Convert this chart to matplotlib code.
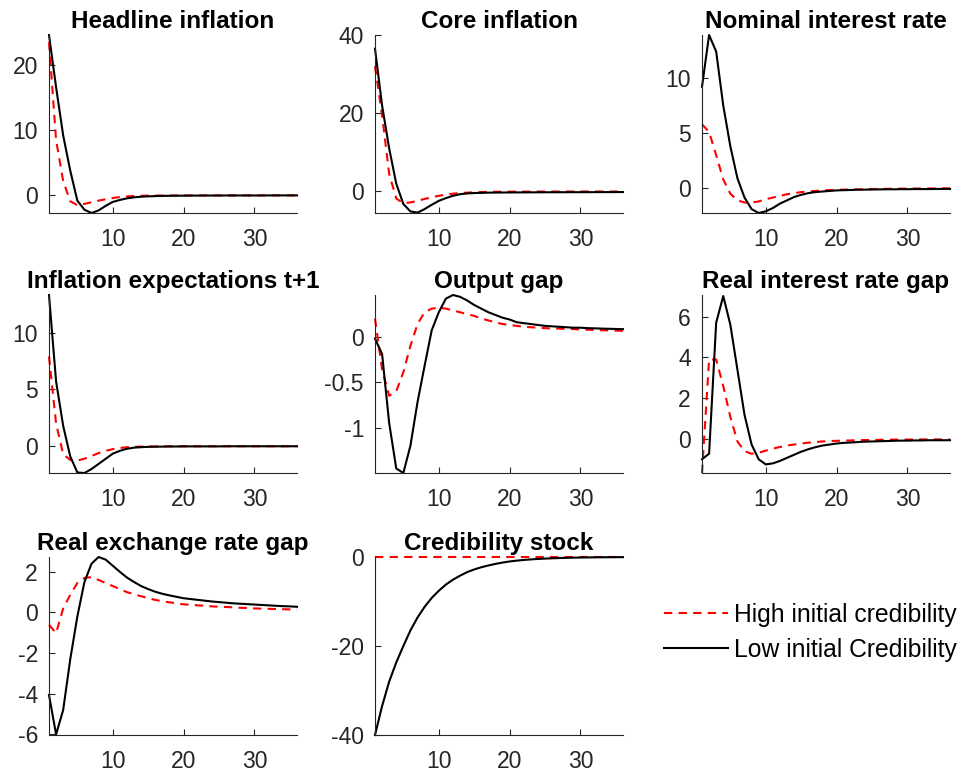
import numpy as np
import matplotlib
matplotlib.use("Agg")
from matplotlib import pyplot as plt
from matplotlib.lines import Line2D

plt.rcParams['font.family'] = ['Liberation Sans', 'DejaVu Sans']
plt.rcParams['axes.unicode_minus'] = False

periods = np.arange(1, 37)

titles = ["Headline inflation", "Core inflation", "Nominal interest rate",
          "Inflation expectations t+1", "Output gap", "Real interest rate gap",
          "Real exchange rate gap", "Credibility stock"]
labels = ["High initial credibility", "Low initial Credibility"]

# high initial credibility (red dashed)
headline_high = [23.5, 8.5, 2.2, -0.9, -1.5, -1.3, -1.05, -0.8, -0.6, -0.4,
                 -0.25, -0.15, -0.1, -0.06, -0.04, -0.03, -0.02, -0.02, -0.01, -0.01,
                 -0.01, 0, 0, 0, 0, 0, 0, 0, 0, 0,
                 0, 0, 0, 0, 0, 0]
core_high = [32, 19.5, 4.5, -1.8, -3.0, -2.8, -2.4, -1.9, -1.5, -1.1,
             -0.8, -0.55, -0.4, -0.3, -0.2, -0.15, -0.1, -0.08, -0.06, -0.05,
             -0.04, -0.03, -0.03, -0.02, -0.02, -0.01, -0.01, -0.01, 0, 0,
             0, 0, 0, 0, 0, 0]
nominal_high = [5.8, 5.1, 3.0, 0.8, -0.5, -1.1, -1.3, -1.3, -1.2, -1.0,
                -0.85, -0.7, -0.55, -0.45, -0.35, -0.3, -0.25, -0.2, -0.17, -0.15,
                -0.13, -0.11, -0.1, -0.09, -0.08, -0.07, -0.06, -0.05, -0.04, -0.04,
                -0.03, -0.03, -0.02, -0.02, -0.01, -0.01]
expect_high = [7.9, 2.0, -0.7, -1.2, -1.25, -1.1, -0.85, -0.6, -0.4, -0.25,
               -0.15, -0.08, -0.05, -0.03, -0.02, -0.01, -0.01, 0, 0, 0,
               0, 0, 0, 0, 0, 0, 0, 0, 0, 0,
               0, 0, 0, 0, 0, 0]
outgap_high = [0.2, -0.36, -0.65, -0.6, -0.39, -0.1, 0.14, 0.27, 0.31, 0.32,
               0.31, 0.29, 0.27, 0.25, 0.23, 0.2, 0.18, 0.16, 0.14, 0.13,
               0.12, 0.11, 0.105, 0.1, 0.095, 0.09, 0.09, 0.085, 0.085, 0.08,
               0.078, 0.075, 0.072, 0.07, 0.068, 0.065]
rir_high = [-1.64, 3.9, 3.9, 2.6, 1.1, -0.1, -0.57, -0.7, -0.65, -0.55,
            -0.45, -0.37, -0.3, -0.25, -0.2, -0.16, -0.13, -0.1, -0.08, -0.07,
            -0.06, -0.05, -0.04, -0.03, -0.03, -0.02, -0.02, -0.01, -0.01, -0.01,
            0, 0, 0, 0, 0, 0]
rer_high = [-0.6, -1.02, 0.2, 0.87, 1.45, 1.7, 1.74, 1.6, 1.45, 1.3,
            1.15, 1.0, 0.9, 0.8, 0.7, 0.62, 0.55, 0.5, 0.45, 0.4,
            0.38, 0.35, 0.33, 0.3, 0.28, 0.27, 0.25, 0.23, 0.22, 0.2,
            0.19, 0.18, 0.17, 0.16, 0.15, 0.14]
cred_high = [0] * 36

# low initial credibility (black solid)
headline_low = [24.6, 16.6, 9.2, 3.8, -0.8, -2.2, -2.7, -2.3, -1.6, -1.0,
                -0.7, -0.45, -0.3, -0.2, -0.15, -0.11, -0.08, -0.06, -0.05, -0.04,
                -0.03, -0.03, -0.02, -0.02, -0.02, -0.01, -0.01, -0.01, -0.01, -0.01,
                -0.01, 0, 0, 0, 0, 0]
core_low = [36.5, 22, 11, 2, -3.2, -5.1, -5.4, -4.5, -3.4, -2.4,
            -1.7, -1.1, -0.7, -0.5, -0.4, -0.35, -0.3, -0.28, -0.26, -0.25,
            -0.24, -0.23, -0.22, -0.21, -0.2, -0.2, -0.19, -0.19, -0.18, -0.18,
            -0.17, -0.17, -0.16, -0.16, -0.15, -0.15]
nominal_low = [9.2, 13.9, 12.4, 7.5, 3.8, 0.9, -0.85, -1.9, -2.25, -2.1,
               -1.8, -1.4, -1.1, -0.8, -0.6, -0.45, -0.35, -0.3, -0.25, -0.2,
               -0.18, -0.16, -0.14, -0.13, -0.12, -0.11, -0.1, -0.1, -0.09, -0.09,
               -0.08, -0.08, -0.08, -0.07, -0.07, -0.07]
expect_low = [13.3, 5.7, 1.8, -0.9, -2.3, -2.35, -2.0, -1.55, -1.1, -0.65,
              -0.4, -0.22, -0.12, -0.08, -0.05, -0.04, -0.03, -0.02, -0.02, -0.01,
              -0.01, -0.01, -0.01, -0.01, -0.01, 0, 0, 0, 0, 0,
              0, 0, 0, 0, 0, 0]
outgap_low = [-0.02, -0.19, -0.95, -1.45, -1.5, -1.2, -0.72, -0.32, 0.07, 0.27,
              0.42, 0.46, 0.44, 0.4, 0.35, 0.31, 0.27, 0.24, 0.21, 0.19,
              0.16, 0.15, 0.14, 0.13, 0.12, 0.115, 0.11, 0.105, 0.1, 0.1,
              0.095, 0.093, 0.09, 0.088, 0.086, 0.084]
rir_low = [-0.97, -0.7, 5.7, 7.0, 5.6, 3.4, 1.2, -0.25, -0.97, -1.22,
           -1.17, -1.05, -0.9, -0.75, -0.6, -0.48, -0.38, -0.3, -0.25, -0.2,
           -0.17, -0.15, -0.13, -0.11, -0.1, -0.09, -0.08, -0.07, -0.06, -0.06,
           -0.05, -0.05, -0.04, -0.04, -0.04, -0.04]
rer_low = [-4.06, -6.0, -4.8, -2.3, -0.2, 1.5, 2.4, 2.73, 2.6, 2.3,
           2.0, 1.72, 1.5, 1.3, 1.15, 1.02, 0.92, 0.84, 0.77, 0.7,
           0.66, 0.62, 0.58, 0.54, 0.51, 0.48, 0.45, 0.43, 0.41, 0.39,
           0.37, 0.35, 0.33, 0.31, 0.3, 0.28]
cred_low = [-40, -33.5, -28, -23.7, -20, -16.5, -13.6, -11.2, -9.2, -7.6,
            -6.2, -5.1, -4.2, -3.4, -2.8, -2.3, -1.9, -1.55, -1.25, -1.0,
            -0.82, -0.66, -0.54, -0.44, -0.36, -0.29, -0.24, -0.19, -0.15, -0.12,
            -0.1, -0.08, -0.06, -0.05, -0.04, -0.03]

high = [headline_high, core_high, nominal_high, expect_high, outgap_high, rir_high, rer_high, cred_high]
low = [headline_low, core_low, nominal_low, expect_low, outgap_low, rir_low, rer_low, cred_low]

yticks = [[0, 10, 20], [0, 20, 40], [0, 5, 10], [0, 5, 10],
          [-1, -0.5, 0], [0, 2, 4, 6], [-6, -4, -2, 0, 2], [-40, -20, 0]]
ylims = [(-2.7, 24.6), (-5.5, 40), (-2.25, 13.9), (-2.35, 13.3),
         (-1.5, 0.46), (-1.64, 7.05), (-6.03, 2.73), (-40, 0)]

W, H = 963, 775
fig = plt.figure(figsize=(W / 100, H / 100), dpi=100)

col_l = [49, 375, 702]
col_w = 248
row_t = [35, 295, 557]
row_h = 178
gray = '#262626'

for i in range(8):
    r, c = divmod(i, 3)
    ax = fig.add_axes([col_l[c] / W, 1 - (row_t[r] + row_h) / H, col_w / W, row_h / H])
    ax.plot(periods, high[i], color='red', ls=(0, (4, 3)), lw=1.5, clip_on=False)
    ax.plot(periods, low[i], color='black', lw=1.5, clip_on=False)
    ax.set_xlim(1, 36)
    ax.set_ylim(*ylims[i])
    ax.set_xticks([10, 20, 30])
    ax.set_yticks(yticks[i])
    ax.set_yticklabels([('%g' % v) for v in yticks[i]])
    for s in ['top', 'right']:
        ax.spines[s].set_visible(False)
    for s in ['left', 'bottom']:
        ax.spines[s].set_color(gray)
        ax.spines[s].set_linewidth(0.8)
    ax.tick_params(axis='both', direction='in', length=4, width=0.8, color=gray,
                   labelcolor=gray, labelsize=16.5)
    ax.tick_params(axis='x', pad=11)
    ax.tick_params(axis='y', pad=8)
    ax.set_title(titles[i], fontsize=17.5, fontweight='bold', pad=5)

handles = [Line2D([], [], color='red', ls=(0, (4, 3)), lw=1.5),
           Line2D([], [], color='black', lw=1.5)]
fig.legend(handles, labels, loc='center left', bbox_to_anchor=(664 / W, 1 - 632.5 / H),
           frameon=False, fontsize=17.8, handlelength=2.6, handletextpad=0.25,
           labelspacing=0.45, borderpad=0, borderaxespad=0)

fig.savefig("out.png", dpi=100)
